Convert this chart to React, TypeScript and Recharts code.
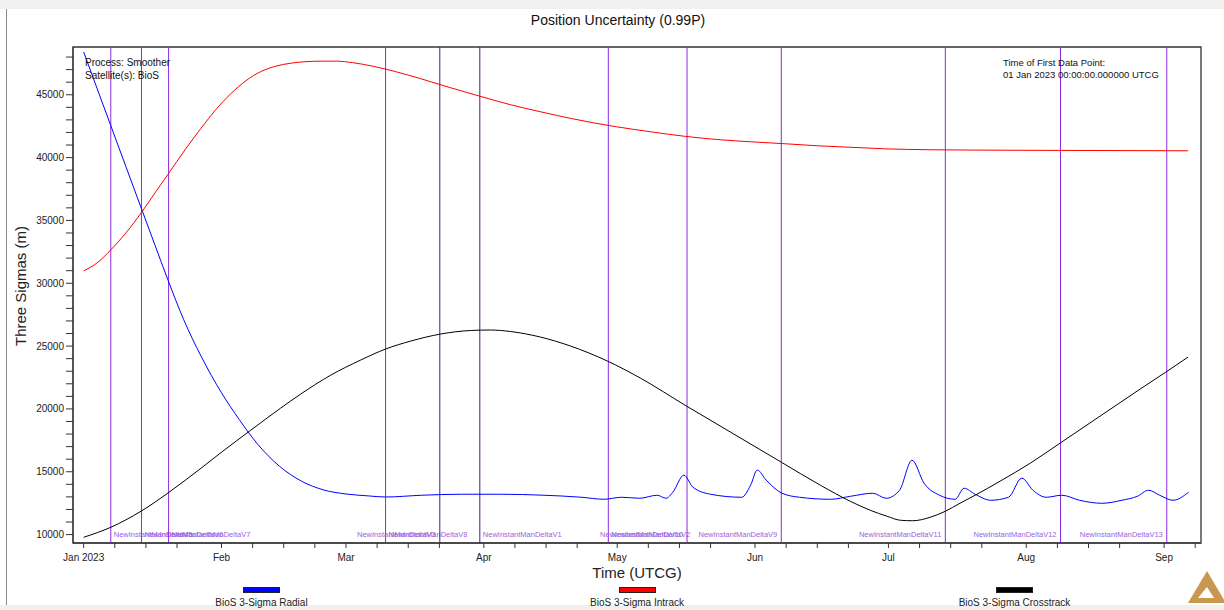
import React from 'react';
import {
  LineChart, Line, XAxis, YAxis, ReferenceLine, ReferenceArea, Legend,
} from 'recharts';

const FONT = '"Liberation Sans", Arial, sans-serif';

// x values are days since 01 Jan 2023 00:00 UTCG
const RADIAL_DAYS = [0, 3, 6.1, 9.5, 13, 16, 19, 22.5, 26.4, 31, 35, 39, 44, 49, 54, 59, 64, 67.9, 76, 85, 94, 103.5, 112, 117, 121, 125, 129, 131, 132.5, 135, 137, 141, 148, 150, 151.5, 153.5, 157, 161, 168, 172.5, 177.5, 180.5, 183.5, 186.3, 189, 192.5, 196, 198, 200.5, 204, 208, 211, 213.5, 216.5, 220, 224, 229, 233.5, 237, 239.5, 242, 245, 248.5];
const RADIAL = [48400, 45520, 42540, 39280, 35930, 33070, 30220, 27100, 24200, 21280, 19150, 17250, 15450, 14250, 13550, 13230, 13080, 12990, 13130, 13210, 13210, 13130, 12970, 12810, 12970, 12890, 13130, 12890, 13370, 14730, 13780, 13210, 12970, 13930, 15130, 14340, 13300, 12970, 12810, 13050, 13290, 12890, 13530, 15920, 14090, 13130, 12810, 13690, 13210, 12730, 12970, 14490, 13530, 12970, 13130, 12730, 12490, 12730, 13050, 13530, 13130, 12730, 13370];

const INTRACK_DAYS = [0, 3, 6.1, 9.5, 13.1, 16.2, 19.2, 22.8, 26.4, 29.7, 33.1, 36.5, 39.8, 43.2, 46.6, 50, 53.3, 56.9, 60.5, 65, 70.2, 75.8, 82.5, 89.1, 96, 102.7, 109.9, 119.8, 127.5, 135.1, 143.2, 150, 157.8, 165, 172.4, 180.1, 190.4, 200.1, 217.4, 233.1, 248.4];
const INTRACK = [30980, 31617, 32653, 34007, 35681, 37274, 38788, 40621, 42334, 43808, 45083, 46119, 46836, 47274, 47513, 47633, 47673, 47673, 47553, 47274, 46836, 46278, 45561, 44884, 44206, 43649, 43091, 42453, 42055, 41697, 41418, 41258, 41099, 40940, 40820, 40700, 40621, 40597, 40573, 40557, 40541];

const CROSS_DAYS = [0, 6.1, 12.9, 19.2, 26.4, 31.3, 37.6, 44.3, 48.8, 55.6, 62.3, 67.9, 73.6, 80.3, 87, 91.5, 96, 102.7, 109.5, 117.8, 125.2, 135.6, 145.5, 156.9, 165.7, 172.4, 176.9, 180.7, 183.7, 186.4, 190.4, 193.8, 197.1, 200.5, 206.1, 212.9, 219.6, 228.6, 237.6, 243.4, 248.4];
const CROSSTRACK = [9785, 10582, 11857, 13370, 15283, 16637, 18311, 20064, 21179, 22693, 23888, 24765, 25402, 25960, 26239, 26279, 26159, 25721, 25004, 23809, 22454, 20223, 18151, 15761, 13928, 12653, 11936, 11458, 11140, 11100, 11378, 11857, 12494, 13131, 14247, 15681, 17275, 19426, 21577, 22932, 24127];

// maneuver markers
const MAN_DAYS = [6.1, 13.0, 19.1, 67.9, 80.1, 89.1, 118.0, 135.7, 156.9, 193.8, 219.7, 243.6];
const MAN_NAMES = ['NewInstantManDeltaV5', 'NewInstantManDeltaV6', 'NewInstantManDeltaV7', 'NewInstantManDeltaV8', 'NewInstantManDeltaV3', 'NewInstantManDeltaV1', 'NewInstantManDeltaV2', 'NewInstantManDeltaV10', 'NewInstantManDeltaV9', 'NewInstantManDeltaV11', 'NewInstantManDeltaV12', 'NewInstantManDeltaV13'];
const MAN_SIDE = ['right', 'right', 'right', 'right', 'left', 'right', 'right', 'left', 'left', 'left', 'left', 'left'];
const MAN_DARK = [false, false, false, false, true, true, false, false, false, false, false, false];

const MONTH_DAYS = [0, 31, 59, 90, 120, 151, 181, 212, 243];
const MONTH_LABELS = ['Jan 2023', 'Feb', 'Mar', 'Apr', 'May', 'Jun', 'Jul', 'Aug', 'Sep'];
const MINOR_DAYS = [7, 14, 21, 38, 45, 52, 66, 73, 80, 97, 104, 111, 127, 134, 141, 158, 165, 172, 188, 195, 202, 219, 226, 233, 250];

const Y_TICKS = [10000, 11000, 12000, 13000, 14000, 15000, 16000, 17000, 18000, 19000, 20000, 21000, 22000, 23000, 24000, 25000, 26000, 27000, 28000, 29000, 30000, 31000, 32000, 33000, 34000, 35000, 36000, 37000, 38000, 39000, 40000, 41000, 42000, 43000, 44000, 45000, 46000, 47000, 48000];
const Y_LABELED = [10000, 15000, 20000, 25000, 30000, 35000, 40000, 45000];

const SERIES_NAMES = ['BioS 3-Sigma Radial', 'BioS 3-Sigma Intrack', 'BioS 3-Sigma Crosstrack'];
const SERIES_COLORS = ['#0000ff', '#ff0000', '#000000'];

const X_MIN = -2.4;
const X_MAX = 251.3;
const Y_MIN = 9330;
const Y_MAX = 48800;

const radialData = RADIAL_DAYS.map((d, i) => ({ day: d, v: RADIAL[i] }));
const intrackData = INTRACK_DAYS.map((d, i) => ({ day: d, v: INTRACK[i] }));
const crossData = CROSS_DAYS.map((d, i) => ({ day: d, v: CROSSTRACK[i] }));

const XTick = (props: any) => {
  const { x, y, payload } = props;
  const idx = MONTH_DAYS.indexOf(payload.value);
  if (idx < 0) return null;
  return (
    <text x={x} y={y} dy="0.71em" textAnchor="middle" fontSize={10} fontFamily={FONT} fill="#222">
      {MONTH_LABELS[idx]}
    </text>
  );
};

const YTick = (props: any) => {
  const { x, y, payload } = props;
  if (!Y_LABELED.includes(payload.value)) return null;
  return (
    <text x={x} y={y} dy="0.355em" textAnchor="end" fontSize={10} fontFamily={FONT} fill="#222">
      {payload.value}
    </text>
  );
};

const ManLabel = (props: any) => {
  const { viewBox, text, side } = props;
  if (!viewBox) return null;
  const x = viewBox.x;
  const yb = viewBox.y + viewBox.height - 6.5;
  return (
    <text
      x={side === 'right' ? x + 3 : x - 4}
      y={yb}
      textAnchor={side === 'right' ? 'start' : 'end'}
      fontSize={7.5}
      fontFamily={FONT}
      fill="#9a62e0"
    >
      {text}
    </text>
  );
};

const XLabel = (props: any) => {
  const { viewBox } = props;
  if (!viewBox) return null;
  return (
    <text x={viewBox.x + viewBox.width / 2} y={578} textAnchor="middle" fontSize={15} fontFamily={FONT} fill="#222">
      Time (UTCG)
    </text>
  );
};

const YLabel = () => (
  <text x={0} y={0} transform="translate(26, 286) rotate(-90)" textAnchor="middle" fontSize={15} fontFamily={FONT} fill="#222">
    Three Sigmas (m)
  </text>
);

const LEGEND_CENTERS = [261.5, 637, 1014.5];

const renderLegend = () => (
  <div style={{ position: 'relative', width: 1224, height: 30, fontFamily: FONT }}>
    {SERIES_NAMES.map((name, i) => (
      <div key={name} style={{ position: 'absolute', left: LEGEND_CENTERS[i] - 80, width: 160, top: 0, height: 30 }}>
        <div
          style={{
            position: 'absolute', left: 80 - 18.5, top: 6.5, width: 37, height: 6,
            background: SERIES_COLORS[i], border: '1px solid #222', boxSizing: 'border-box',
          }}
        />
        <div
          style={{
            position: 'absolute', left: 0, width: 160, top: 17, textAlign: 'center',
            fontSize: 10, lineHeight: '12px', color: '#222',
          }}
        >
          {name}
        </div>
      </div>
    ))}
  </div>
);

export default function App() {
  return (
    <div style={{ position: 'fixed', left: 0, top: 0, width: 1224, height: 610, background: '#fff', overflow: 'hidden' }}>
      <div style={{ position: 'absolute', left: 0, top: 0, width: 1224, height: 9, background: '#f0f0f0' }} />
      <div style={{ position: 'absolute', left: 0, top: 605, width: 1224, height: 5, background: '#f0f0f0' }} />
      <div style={{ position: 'absolute', left: 6, top: 9, width: 1, height: 596, background: '#8a8a8a' }} />
      <div
        style={{
          position: 'absolute', left: 418, width: 400, top: 12, textAlign: 'center',
          fontFamily: FONT, fontSize: 14, lineHeight: '16px', color: '#111',
        }}
      >
        Position Uncertainty (0.99P)
      </div>
      <div style={{ position: 'absolute', left: 0, top: 0 }}>
        <LineChart width={1224} height={610} margin={{ top: 47, right: 23, left: 0, bottom: 0 }}>
          <XAxis
            dataKey="day"
            type="number"
            domain={[X_MIN, X_MAX]}
            allowDataOverflow
            ticks={[...MONTH_DAYS, ...MINOR_DAYS].sort((a, b) => a - b)}
            interval={0}
            tick={<XTick />}
            tickSize={5}
            tickMargin={6}
            height={37}
            stroke="#333"
            tickLine={{ stroke: '#333' }}
            label={<XLabel />}
          />
          <YAxis
            type="number"
            domain={[Y_MIN, Y_MAX]}
            allowDataOverflow
            ticks={Y_TICKS}
            interval={0}
            tick={<YTick />}
            tickSize={7}
            tickMargin={2}
            width={73}
            stroke="#333"
            tickLine={{ stroke: '#333' }}
            label={<YLabel />}
          />
          <Legend
            verticalAlign="bottom"
            height={30}
            content={renderLegend}
            wrapperStyle={{ left: 0, bottom: 0, width: 1224, height: 30 }}
          />
          <ReferenceArea
            x1={X_MIN} x2={X_MAX} y1={Y_MIN} y2={Y_MAX}
            fill="none" stroke="#333" strokeWidth={1.3} ifOverflow="visible"
          />
          {MAN_DAYS.map((d, i) => (
            <ReferenceLine
              key={MAN_NAMES[i] + d}
              x={d}
              stroke={MAN_DARK[i] ? '#4f1a8c' : '#8a2be2'}
              strokeWidth={1}
              label={<ManLabel text={MAN_NAMES[i]} side={MAN_SIDE[i]} />}
            />
          ))}
          <Line data={radialData} dataKey="v" name={SERIES_NAMES[0]} type="monotone" stroke={SERIES_COLORS[0]} strokeWidth={1} dot={false} isAnimationActive={false} />
          <Line data={intrackData} dataKey="v" name={SERIES_NAMES[1]} type="monotone" stroke={SERIES_COLORS[1]} strokeWidth={1} dot={false} isAnimationActive={false} />
          <Line data={crossData} dataKey="v" name={SERIES_NAMES[2]} type="monotone" stroke={SERIES_COLORS[2]} strokeWidth={1} dot={false} isAnimationActive={false} />
        </LineChart>
      </div>
      <div style={{ position: 'absolute', left: 85, top: 56, fontFamily: FONT, fontSize: 10, lineHeight: '13px', color: '#111' }}>
        <div>Process: Smoother</div>
        <div>Satellite(s): BioS</div>
      </div>
      <div style={{ position: 'absolute', left: 1003, top: 57, fontFamily: FONT, fontSize: 9.5, lineHeight: '12px', color: '#111' }}>
        <div>Time of First Data Point:</div>
        <div>01 Jan 2023 00:00:00.000000 UTCG</div>
      </div>
      <svg style={{ position: 'absolute', left: 1180, top: 565 }} width={44} height={42}>
        <path
          d="M8 38 L27 6 L46 38 Z M18 33 L34 33 L27 22 Z"
          fill="#c9974f"
          fillRule="evenodd"
        />
      </svg>
    </div>
  );
}
